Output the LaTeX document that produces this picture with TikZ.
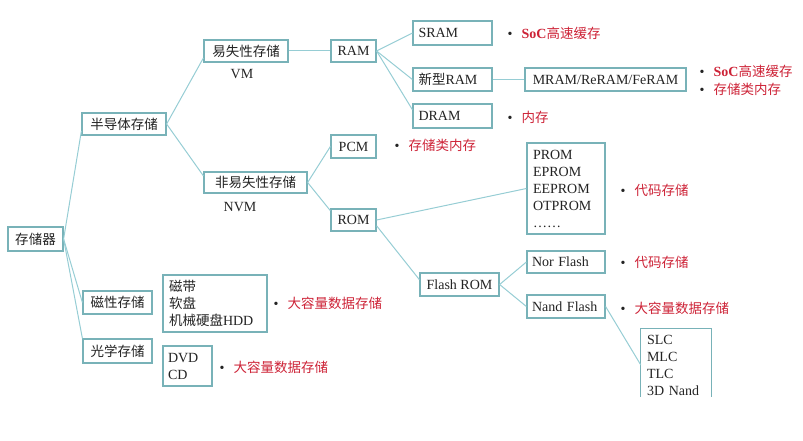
\documentclass[tikz,border=0pt]{standalone}
\usepackage{fontspec}
\setmainfont{Liberation Serif}
\newfontfamily\cjk{Noto Sans CJK SC}
\usetikzlibrary{calc}
\newcommand{\zh}[1]{{\cjk\fontsize{13.5}{17}\selectfont #1}}
\definecolor{edgec}{RGB}{150,205,212}
\definecolor{boxc}{RGB}{120,178,184}
\definecolor{redc}{RGB}{205,35,55}
\definecolor{txt}{RGB}{35,35,35}
\newcommand{\bul}{{\color{txt}\textbullet}\hspace{9pt}}
\tikzset{
  box/.style={draw=boxc, line width=1.2pt, fill=white, inner sep=0pt,
    minimum height=22, text=txt, font=\fontsize{14}{17}\selectfont},
  plain/.style={inner sep=0pt, text=txt, font=\fontsize{14}{17}\selectfont},
  link/.style={draw=edgec, line width=1pt},
  note/.style={anchor=west, inner sep=0pt, text=redc, align=left,
    font=\fontsize{14}{18}\selectfont}
}
\begin{document}
\begin{tikzpicture}[x=1pt,y=-1pt]
\useasboundingbox (0,0) rectangle (803,441);
% level 0/1
\node[box, minimum width=55, minimum height=24] (cq) at (35.5,239) {\zh{存储器}};
\node[box, minimum width=84] (bd) at (124,124) {\zh{半导体存储}};
\node[box, minimum width=69, minimum height=23] (cx) at (117.5,302.5) {\zh{磁性存储}};
\node[box, minimum width=69, minimum height=24] (gx) at (117.5,351) {\zh{光学存储}};
% level 2
\node[box, minimum width=84] (vm) at (246,51) {\zh{易失性存储}};
\node[plain] (vmt) at (242,74) {VM};
\node[box, minimum width=103, minimum height=21] (nvm) at (255.5,182.5) {\zh{非易失性存储}};
\node[plain] (nvmt) at (240,207) {NVM};
\node[box, minimum width=104, minimum height=57, text width=92, align=left] (cd) at (215,303.5)
  {\zh{磁带}\\\zh{软盘}\\\zh{机械硬盘}HDD};
\node[box, minimum width=49, minimum height=40, text width=39, align=left] (dvd) at (187.5,366)
  {DVD\\CD};
% level 3
\node[box, minimum width=45] (ram) at (353.5,51) {RAM};
\node[box, minimum width=45, minimum height=23] (pcm) at (353.5,146.5) {PCM};
\node[box, minimum width=45] (rom) at (353.5,220) {ROM};
% level 4
\node[box, minimum width=79, minimum height=24, text width=68, align=left] (sram) at (452.5,33) {SRAM};
\node[box, minimum width=79, minimum height=23, text width=68, align=left] (xram) at (452.5,79.5) {\zh{新型}RAM};
\node[box, minimum width=79, minimum height=24, text width=68, align=left] (dram) at (452.5,116) {DRAM};
\node[box, minimum width=161, minimum height=23] (mram) at (605.5,79.5) {MRAM/ReRAM/FeRAM};
\node[box, minimum width=78, minimum height=91, text width=66, align=left] (prom) at (566,188.5)
  {PROM\\EPROM\\EEPROM\\OTPROM\\……};
\node[box, minimum width=79, minimum height=23] (flash) at (459.5,284.5) {Flash ROM};
\node[box, minimum width=78, minimum height=22, text width=68, align=left] (nor) at (566,262) {Nor Flash};
\node[box, minimum width=78, minimum height=23, text width=68, align=left] (nand) at (566,306.5) {Nand Flash};
\begin{scope}
\clip (0,0) rectangle (803,396);
\node[plain, minimum width=70, minimum height=72, text width=58, align=left] (slc) at (676,365)
  {SLC\\MLC\\TLC\\3D Nand};
\draw[draw=boxc, line width=1.2pt] (slc.south west) |- (slc.north east) -- (slc.south east);
\end{scope}
% notes
\node[note] (n1) at (507.5,33) {\bul\textbf{SoC}\zh{高速缓存}};
\node[note] (n2) at (699.5,80) {\bul\textbf{SoC}\zh{高速缓存}\\\bul\zh{存储类内存}};
\node[note] (n3) at (507.5,117) {\bul\zh{内存}};
\node[note] (n4) at (394.5,145) {\bul\zh{存储类内存}};
\node[note] (n5) at (620.5,190) {\bul\zh{代码存储}};
\node[note] (n6) at (620.5,262) {\bul\zh{代码存储}};
\node[note] (n7) at (620.5,308) {\bul\zh{大容量数据存储}};
\node[note] (n8) at (273.5,303) {\bul\zh{大容量数据存储}};
\node[note] (n9) at (219.5,367) {\bul\zh{大容量数据存储}};
% links
\draw[link] (cq.east) -- ($(bd.west)!0.6!(bd.south west)$);
\draw[link] (cq.east) -- (cx.west);
\draw[link] (cq.east) -- (gx.north west);
\draw[link] (bd.east) -- ($(vm.west)!0.6!(vm.south west)$);
\draw[link] (bd.east) -- ($(nvm.west)!0.6!(nvm.north west)$);
\draw[link] (vm.east) -- (ram.west);
\draw[link] (ram.east) -- (sram.west);
\draw[link] (ram.east) -- (xram.west);
\draw[link] (ram.east) -- ($(dram.west)!0.5!(dram.north west)$);
\draw[link] (xram.east) -- (mram.west);
\draw[link] (nvm.east) -- (pcm.west);
\draw[link] (nvm.east) -- ($(rom.west)!0.8!(rom.north west)$);
\draw[link] (rom.east) -- (prom.west);
\draw[link] ($(rom.east)!0.5!(rom.south east)$) -- ($(flash.west)!0.4!(flash.north west)$);
\draw[link] (flash.east) -- (nor.west);
\draw[link] (flash.east) -- (nand.west);
\draw[link] (nand.east) -- (slc.west);
\end{tikzpicture}
\end{document}
